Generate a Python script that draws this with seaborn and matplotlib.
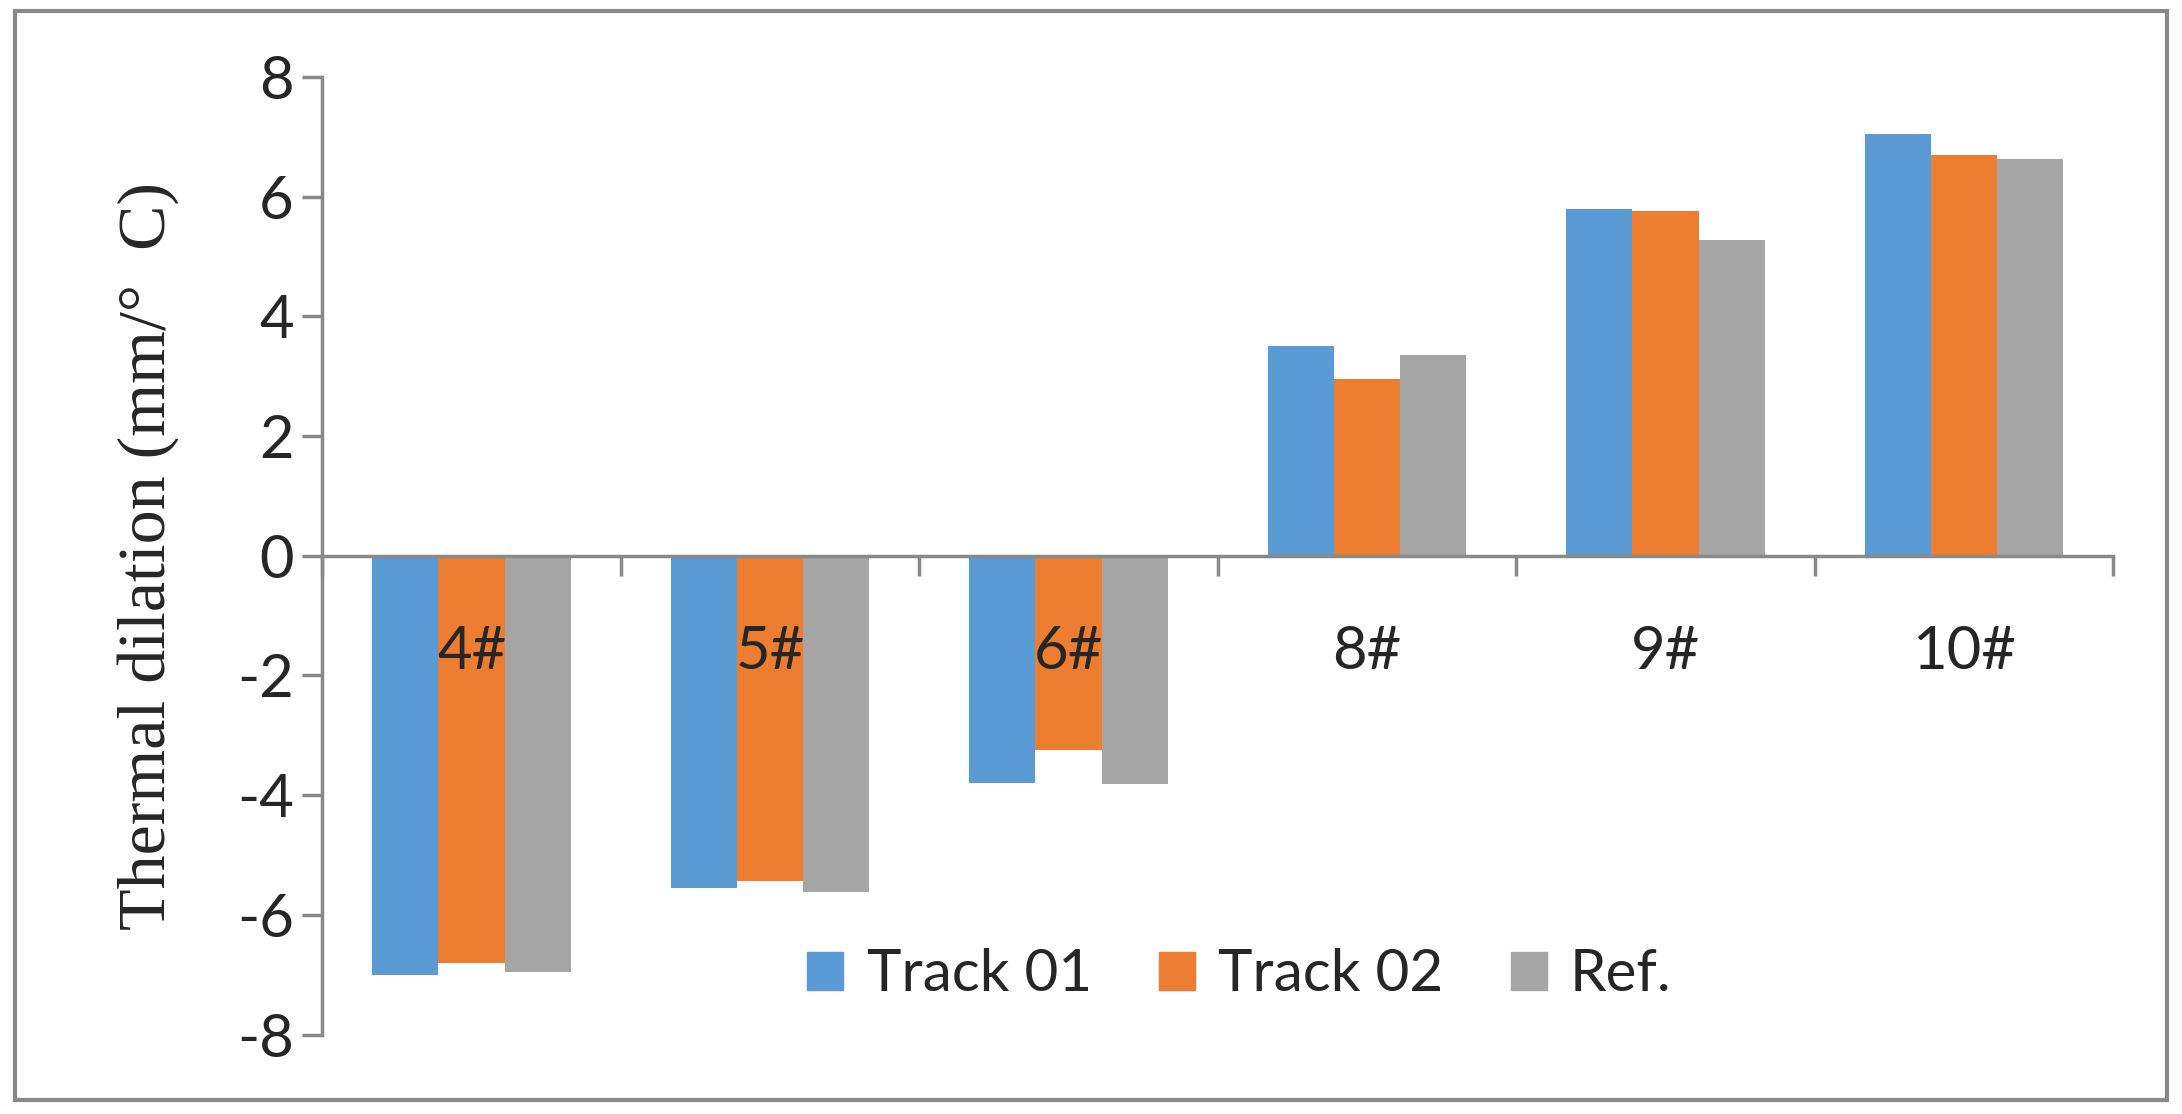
import pandas as pd
import matplotlib
matplotlib.use("Agg")
import matplotlib.pyplot as plt
import seaborn as sns
from matplotlib.patches import Rectangle

# Data
categories = ["4#", "5#", "6#", "8#", "9#", "10#"]
track_01 = [-7.01, -5.55, -3.80, 3.51, 5.80, 7.04]
track_02 = [-6.81, -5.44, -3.24, 2.95, 5.76, 6.69]
ref_vals = [-6.96, -5.62, -3.81, 3.35, 5.28, 6.62]
series = ["Track 01", "Track 02", "Ref."]
colors = ["#5B9BD5", "#ED7D31", "#A5A5A5"]
y_ticks = [-8, -6, -4, -2, 0, 2, 4, 6, 8]

df = pd.DataFrame({"category": categories, "Track 01": track_01,
                   "Track 02": track_02, "Ref.": ref_vals})
df = df.melt(id_vars="category", var_name="series", value_name="value")

sns.set_theme(style="white")
plt.rcParams["font.family"] = ["Lato", "DejaVu Sans"]

spine_col = "#898989"

fig = plt.figure(figsize=(21.82, 11.14), dpi=100)
ax = fig.add_axes([0.1477, 0.0713, 0.9685 - 0.1477, 0.931 - 0.0713])

sns.barplot(data=df, x="category", y="value", hue="series", hue_order=series,
            order=categories, palette=colors, width=0.664, saturation=1,
            edgecolor="none", linewidth=0, ax=ax)

ax.set_xlim(-0.5, len(categories) - 0.5)
ax.set_ylim(-8, 8)
ax.set_yticks(y_ticks)
ax.set_yticklabels([str(v) for v in y_ticks])

# spines
for s in ["top", "right"]:
    ax.spines[s].set_visible(False)
ax.spines["bottom"].set_position(("data", 0))
for s in ["left", "bottom"]:
    ax.spines[s].set_color(spine_col)
    ax.spines[s].set_linewidth(2.5)

# x ticks at boundaries, labels at centres
ax.set_xticks([i - 0.5 for i in range(len(categories) + 1)])
ax.set_xticklabels([])
ax.set_xticks(range(len(categories)), minor=True)
ax.set_xticklabels(categories, minor=True)
ax.tick_params(axis="x", which="major", direction="out", length=14.5,
               width=2.5, color=spine_col, bottom=True)
ax.tick_params(axis="x", which="minor", length=0, pad=50, labelsize=43,
               bottom=True)
ax.tick_params(axis="y", direction="out", length=14.5, width=2.5,
               color=spine_col, labelsize=43, pad=6, left=True)
ax.set_axisbelow(False)
ax.set_xlabel("")
ax.set_ylabel("Thermal dilation (mm/°  C)", fontsize=49,
              family=["Liberation Serif", "DejaVu Serif"])
ax.yaxis.set_label_coords(-0.08, 0.5)
ax.grid(False)

# legend
ax.legend_.remove()
handles = [Rectangle((0, 0), 1, 1, color=c) for c in colors]
fig.legend(handles, series, loc="center", bbox_to_anchor=(0.568, 0.125),
           ncol=3, frameon=False, fontsize=42, handlelength=0.62,
           handleheight=0.62, handletextpad=0.4, columnspacing=1.15)

# outer chart border
fig.patches.append(Rectangle((0.007, 0.0126), 0.986, 0.9774,
                             transform=fig.transFigure, fill=False,
                             edgecolor=spine_col, linewidth=3))

fig.savefig("out.png", dpi=100)
